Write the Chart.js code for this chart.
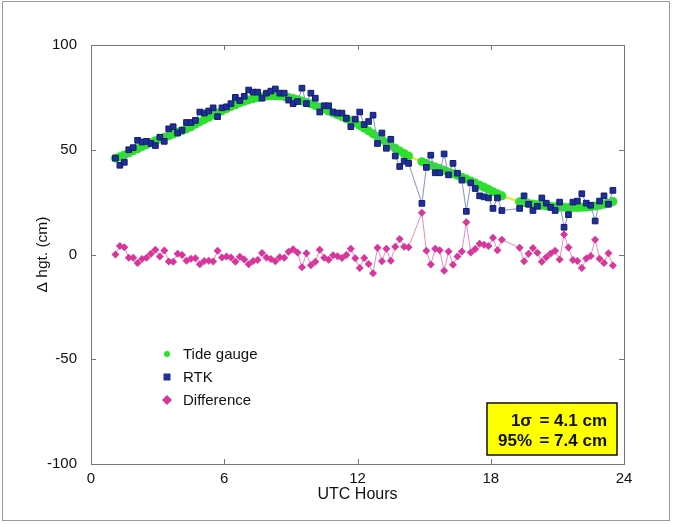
<!DOCTYPE html>
<html>
<head>
<meta charset="utf-8">
<script src="https://cdn.jsdelivr.net/npm/chart.js@4.4.1/dist/chart.umd.min.js"></script>
<style>
  html, body { margin: 0; padding: 0; background: #fff; }
  #wrap { position: relative; width: 677px; height: 524px; }
</style>
</head>
<body>
<div id="wrap"><canvas id="tideChart"></canvas></div>
<script>
// sample times (UTC hours), shared by all three series
const hours = [
  1.1, 1.3, 1.5, 1.7, 1.9, 2.1, 2.3, 2.5, 2.7, 2.9,
  3.1, 3.3, 3.5, 3.7, 3.9, 4.1, 4.3, 4.5, 4.7, 4.9,
  5.1, 5.3, 5.5, 5.7, 5.9, 6.1, 6.3, 6.5, 6.7, 6.9,
  7.1, 7.3, 7.5, 7.7, 7.9, 8.1, 8.3, 8.5, 8.7, 8.9,
  9.1, 9.3, 9.5, 9.7, 9.9, 10.1, 10.3, 10.5, 10.7, 10.9,
  11.1, 11.3, 11.5, 11.7, 11.9, 12.1, 12.3, 12.5, 12.7, 12.9,
  13.1, 13.3, 13.5, 13.7, 13.9, 14.1, 14.3,
  14.9, 15.1, 15.3, 15.5, 15.7, 15.9, 16.1, 16.3, 16.5, 16.7,
  16.9, 17.1, 17.3, 17.5, 17.7, 17.9, 18.1, 18.3, 18.5,
  19.3, 19.5, 19.7, 19.9, 20.1, 20.3, 20.5, 20.7, 20.9, 21.1,
  21.3, 21.5, 21.7, 21.9, 22.1, 22.3, 22.5, 22.7, 22.9, 23.1,
  23.3, 23.5
];

// tide gauge height (cm)
const tideGauge = [
  46.0, 46.6, 47.5, 48.5, 49.5, 50.5, 51.5, 52.5, 53.4, 54.3,
  55.1, 55.9, 56.7, 57.5, 58.3, 59.1, 60.0, 61.0, 62.2, 63.3,
  64.4, 65.5, 66.6, 67.6, 68.6, 69.6, 70.6, 71.5, 72.4, 73.1,
  73.8, 74.4, 74.9, 75.3, 75.6, 75.8, 75.8, 75.7, 75.4, 75.0,
  74.5, 73.9, 73.3, 72.6, 71.9, 71.1, 70.3, 69.4, 68.5, 67.6,
  66.7, 65.8, 64.8, 63.8, 62.8, 61.6, 60.3, 59.0, 57.6, 56.2,
  54.8, 53.4, 52.0, 50.7, 49.4, 48.2, 47.0,
  44.3, 43.4, 42.6, 41.8, 41.0, 40.2, 39.4, 38.6, 37.8, 36.9,
  36.0, 35.1, 34.1, 33.1, 32.1, 31.1, 30.0, 29.0, 28.0,
  25.2, 24.8, 24.4, 24.1, 23.8, 23.5, 23.2, 23.0, 22.8, 22.6,
  22.5, 22.4, 22.4, 22.4, 22.5, 22.6, 22.8, 23.1, 23.5, 24.0,
  24.6, 25.3
];

// RTK height (cm)
const rtk = [
  46.0, 42.6, 44.0, 50.0, 51.0, 54.5, 53.7, 54.0, 53.0, 52.0,
  56.0, 54.0, 60.0, 61.0, 58.0, 59.3, 63.0, 63.0, 64.0, 68.0,
  67.5, 68.5, 70.0, 65.8, 70.0, 70.5, 72.0, 75.0, 73.5, 75.5,
  78.5, 77.5, 77.5, 74.6, 77.0, 78.0, 79.0, 77.0, 77.0, 73.7,
  72.0, 73.0, 79.4, 72.0, 77.0, 74.6, 68.0, 71.0, 71.0, 68.0,
  67.5, 67.5, 65.0, 61.0, 64.6, 68.0, 62.0, 63.5, 66.5, 53.0,
  58.0, 50.7, 55.0, 47.0, 42.0, 44.5, 43.5,
  24.4, 41.6, 47.4, 39.0, 39.0, 48.0, 38.0, 43.5, 38.8, 35.5,
  20.6, 34.2, 31.5, 28.0, 27.5, 27.0, 22.0, 27.0, 21.0,
  22.0, 28.0, 24.0, 21.0, 23.0, 27.0, 24.5, 22.5, 21.0, 25.0,
  13.0, 19.0, 25.0, 25.5, 29.0, 24.5, 23.5, 16.0, 25.5, 28.0,
  24.0, 30.6
];

const xTicks = [0, 6, 12, 18, 24];
const yTicks = [-100, -50, 0, 50, 100];
const statLines = [['1\u03c3', '= 4.1 cm'], ['95%', '= 7.4 cm']];

const FONT = '"Liberation Sans", Arial, sans-serif';

const tidePts = hours.map((h, i) => ({ x: h, y: tideGauge[i] }));
const rtkPts = hours.map((h, i) => ({ x: h, y: rtk[i] }));
const diffPts = hours.map((h, i) => ({ x: h, y: +(tideGauge[i] - rtk[i]).toFixed(1) }));

const COL_TIDE = '#2ee02e';
const COL_TIDE_LINE = '#e6ee10';
const COL_RTK = '#1f2f9a';
const COL_RTK_EDGE = '#121c6e';
const COL_DIFF = '#d8369c';

// frame, inward ticks, titles, legend and stats box
const decor = {
  id: 'decor',
  beforeDraw(chart) {
    const ctx = chart.ctx;
    ctx.save();
    ctx.fillStyle = '#fff';
    ctx.fillRect(0, 0, chart.width, chart.height);
    ctx.strokeStyle = '#9a9a9a';
    ctx.lineWidth = 1;
    ctx.strokeRect(2.5, 1.5, 667, 519);
    ctx.restore();
  },
  afterDraw(chart) {
    const { ctx, chartArea: a, scales: { x, y } } = chart;
    ctx.save();
    ctx.strokeStyle = '#777';
    ctx.lineWidth = 1;
    ctx.strokeRect(a.left + 0.5, a.top + 0.5, a.right - a.left, a.bottom - a.top);

    ctx.beginPath();
    xTicks.forEach((v) => {
      const px = Math.round(x.getPixelForValue(v)) + 0.5;
      ctx.moveTo(px, a.bottom); ctx.lineTo(px, a.bottom - 5);
      ctx.moveTo(px, a.top); ctx.lineTo(px, a.top + 5);
    });
    yTicks.forEach((v) => {
      const py = Math.round(y.getPixelForValue(v)) + 0.5;
      ctx.moveTo(a.left, py); ctx.lineTo(a.left + 5, py);
      ctx.moveTo(a.right, py); ctx.lineTo(a.right - 5, py);
    });
    ctx.stroke();

    // axis titles
    ctx.fillStyle = '#111';
    ctx.font = '16px ' + FONT;
    ctx.textAlign = 'center';
    ctx.textBaseline = 'middle';
    ctx.fillText('UTC Hours', (a.left + a.right) / 2, 495);
    ctx.save();
    ctx.translate(43, (a.top + a.bottom) / 2);
    ctx.rotate(-Math.PI / 2);
    ctx.font = '15.5px ' + FONT;
    ctx.fillText('\u0394 hgt. (cm)', 0, 0);
    ctx.restore();

    // legend
    const lx = 167;
    const ly = [354, 377, 400];
    ctx.fillStyle = COL_TIDE;
    ctx.beginPath(); ctx.arc(lx, ly[0], 3, 0, Math.PI * 2); ctx.fill();
    ctx.fillStyle = COL_RTK;
    ctx.fillRect(lx - 3.5, ly[1] - 3.5, 7, 7);
    ctx.fillStyle = COL_DIFF;
    ctx.beginPath();
    ctx.moveTo(lx, ly[2] - 5); ctx.lineTo(lx + 5, ly[2]);
    ctx.lineTo(lx, ly[2] + 5); ctx.lineTo(lx - 5, ly[2]);
    ctx.closePath(); ctx.fill();
    ctx.fillStyle = '#111';
    ctx.font = '15px ' + FONT;
    ctx.textAlign = 'left';
    ['Tide gauge', 'RTK', 'Difference'].forEach((t, i) => ctx.fillText(t, lx + 16, ly[i] + 1));

    // stats box
    ctx.fillStyle = '#ffff00';
    ctx.fillRect(487, 403, 130, 52);
    ctx.strokeStyle = '#111';
    ctx.lineWidth = 1.5;
    ctx.strokeRect(487, 403, 130, 52);
    ctx.fillStyle = '#111';
    ctx.font = 'bold 17px ' + FONT;
    ctx.textAlign = 'right';
    statLines.forEach(([k, v], i) => {
      const ty = 421 + i * 20;
      ctx.fillText(k, 532, ty);
      ctx.fillText(v, 607, ty);
    });
    ctx.restore();
  }
};

new Chart(document.getElementById('tideChart'), {
  type: 'scatter',
  data: {
    datasets: [
      {
        label: 'RTK',
        data: rtkPts,
        showLine: true,
        borderColor: '#8592cc',
        borderWidth: 1,
        pointStyle: 'rect',
        pointRadius: 4,
        pointBackgroundColor: COL_RTK,
        pointBorderColor: COL_RTK_EDGE,
        pointBorderWidth: 1,
        order: 1
      },
      {
        label: 'Tide gauge',
        data: tidePts,
        showLine: true,
        borderColor: COL_TIDE_LINE,
        borderWidth: 2,
        pointStyle: 'circle',
        pointRadius: 4.5,
        pointBackgroundColor: COL_TIDE,
        pointBorderWidth: 0,
        order: 2
      },
      {
        label: 'Difference',
        data: diffPts,
        showLine: true,
        borderColor: '#e58cc4',
        borderWidth: 1,
        pointStyle: 'rectRot',
        pointRadius: 4,
        pointBackgroundColor: COL_DIFF,
        pointBorderColor: COL_DIFF,
        pointBorderWidth: 0,
        order: 3
      }
    ]
  },
  options: {
    responsive: true,
    maintainAspectRatio: false,
    animation: false,
    layout: { padding: { top: 45, right: 53, left: 0, bottom: 0 } },
    plugins: {
      legend: { display: false },
      tooltip: { enabled: false }
    },
    scales: {
      x: {
        type: 'linear',
        min: 0,
        max: 24,
        afterFit(s) { s.height = 60; },
        afterBuildTicks(s) { s.ticks = xTicks.map((v) => ({ value: v })); },
        grid: { display: false },
        border: { display: false },
        ticks: { padding: -2, color: '#111', font: { size: 15, family: FONT } }
      },
      y: {
        min: -100,
        max: 100,
        afterFit(s) { s.width = 91; },
        afterBuildTicks(s) { s.ticks = yTicks.map((v) => ({ value: v })); },
        grid: { display: false },
        border: { display: false },
        ticks: { padding: 6, color: '#111', font: { size: 15, family: FONT } }
      }
    }
  },
  plugins: [decor]
});
</script>
</body>
</html>
